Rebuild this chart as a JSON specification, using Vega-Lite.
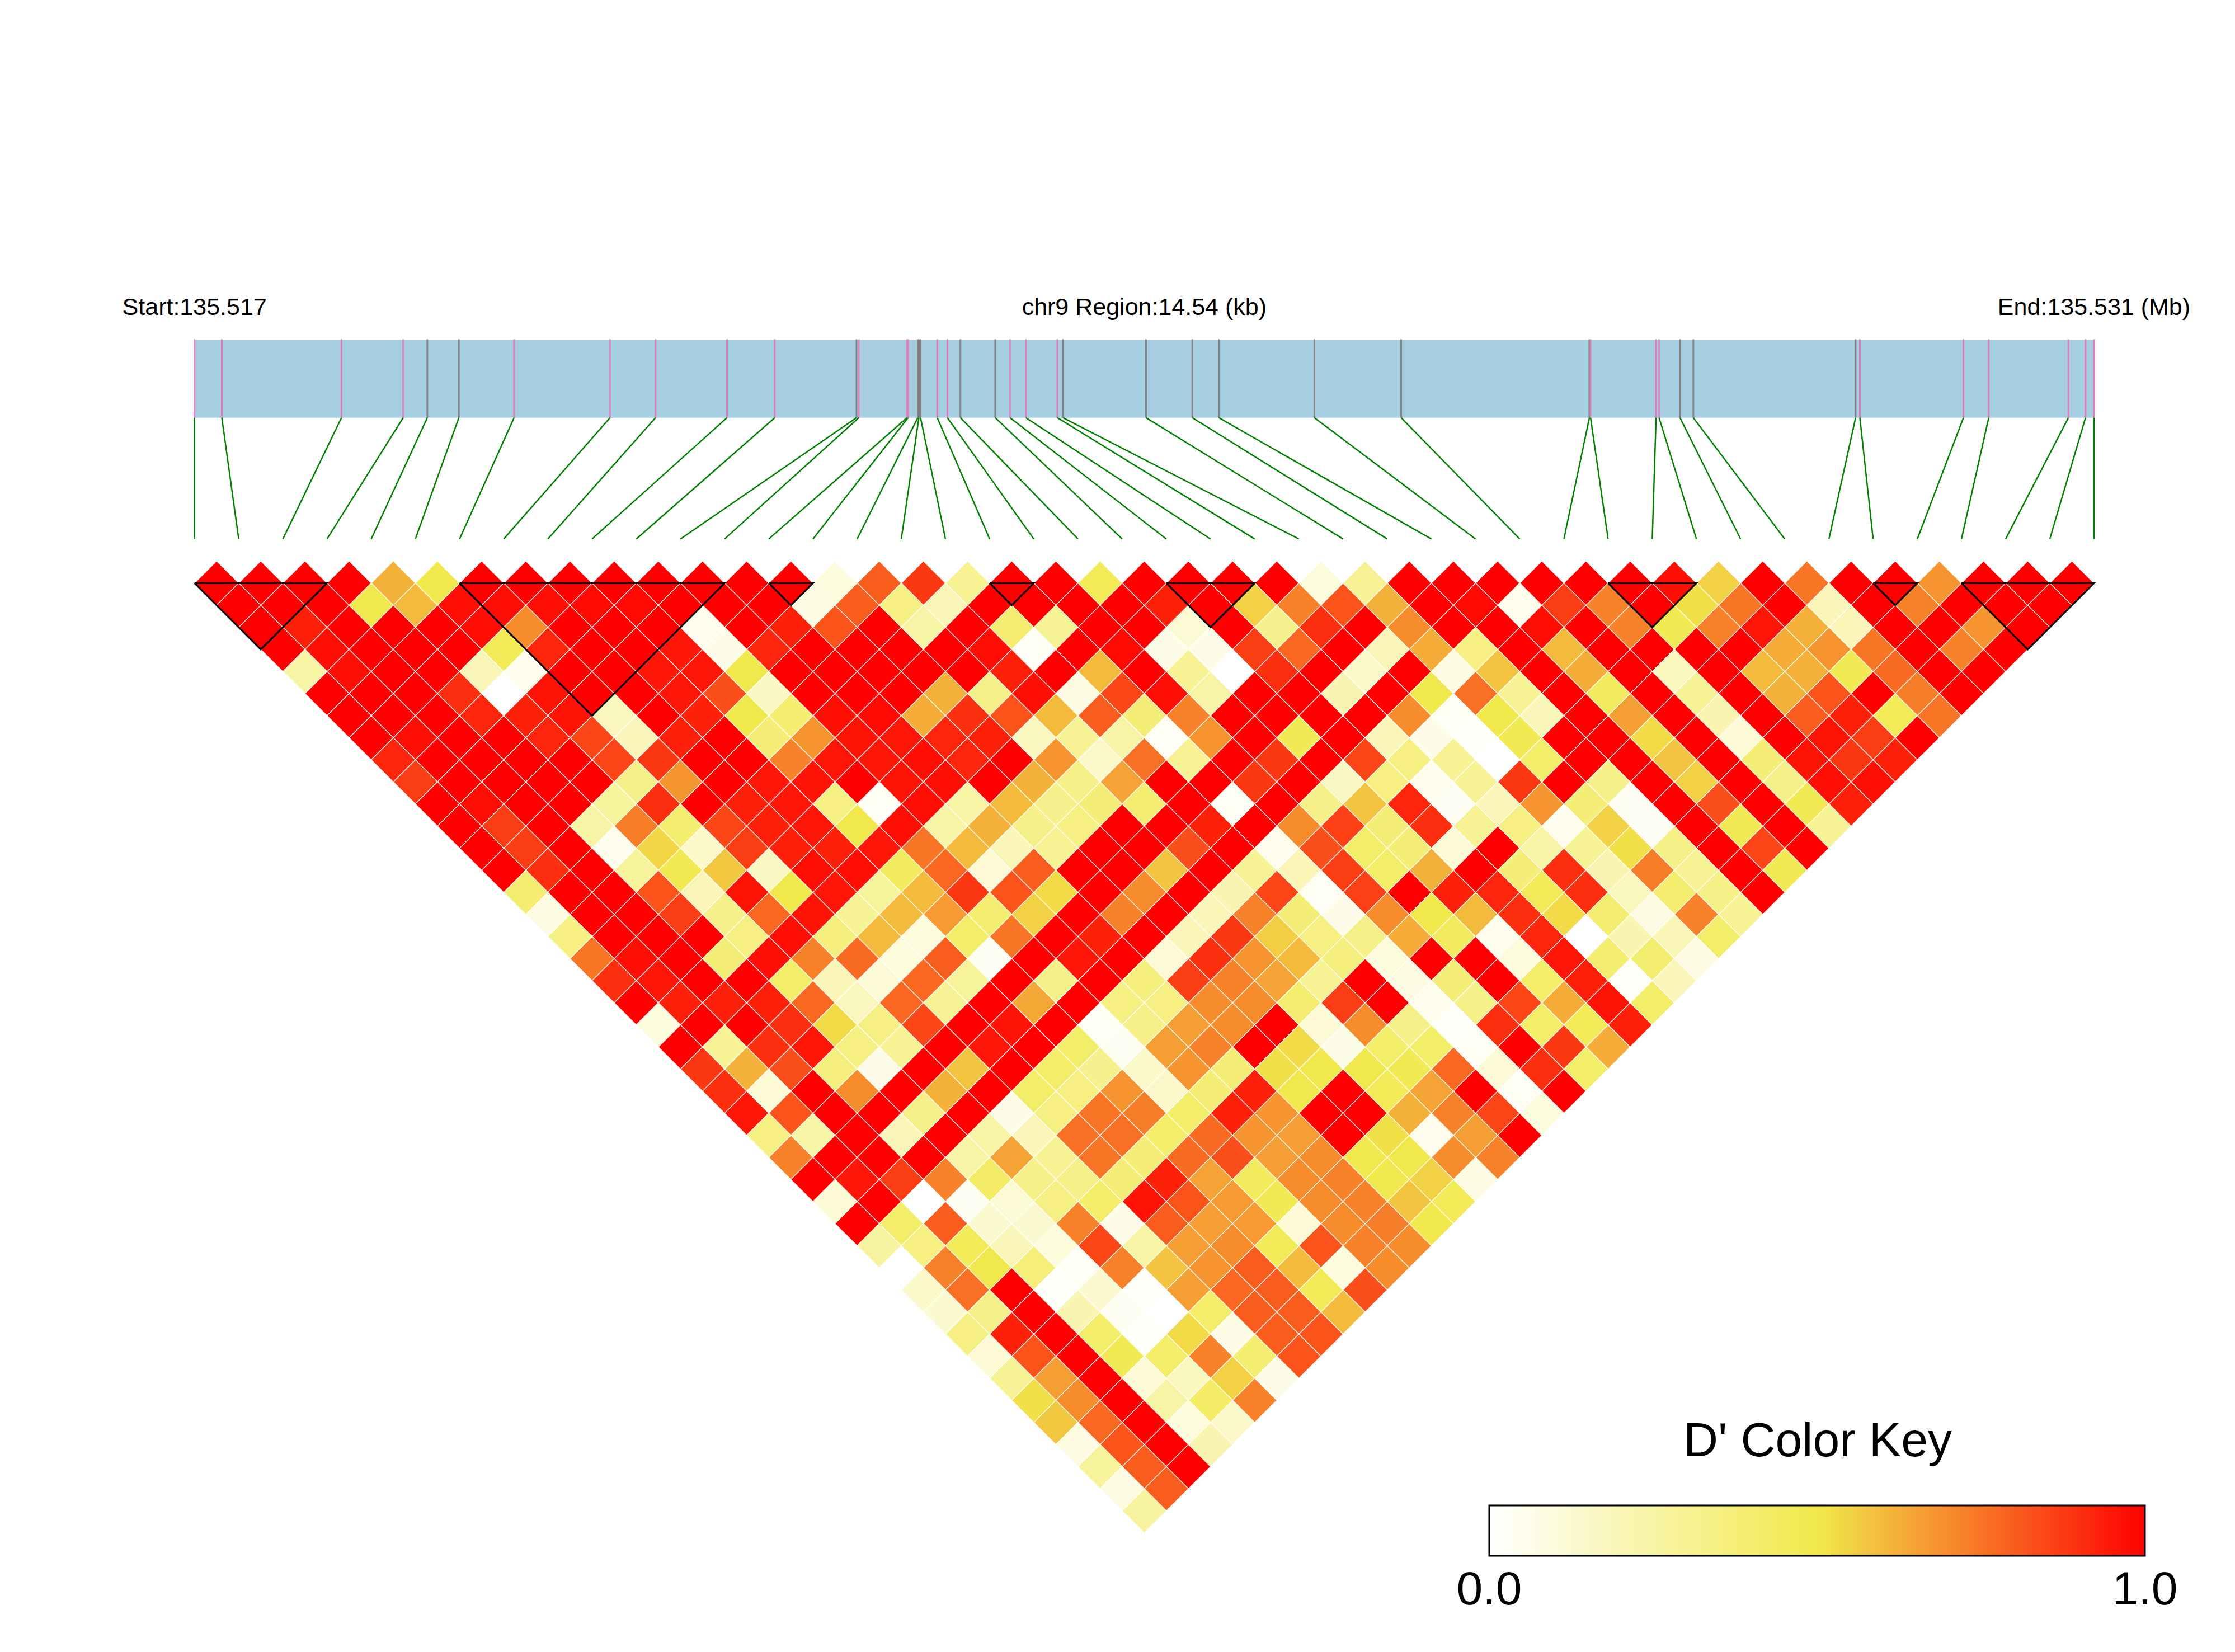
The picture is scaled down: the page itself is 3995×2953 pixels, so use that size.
{"$schema":"https://vega.github.io/schema/vega-lite/v6.json","width":3995,"height":2953,"padding":0,"autosize":{"type":"fit","contains":"padding"},"background":"white","config":{"view":{"stroke":null},"axis":{"disable":true}},
"datasets":{
"snps":[{"i":0,"p":0,"k":"a"},{"i":1,"p":0.618,"k":"a"},{"i":2,"p":3.327,"k":"a"},{"i":3,"p":4.724,"k":"a"},{"i":4,"p":5.27,"k":"b"},{"i":5,"p":5.984,"k":"b"},{"i":6,"p":7.234,"k":"a"},{"i":7,"p":9.407,"k":"a"},{"i":8,"p":10.437,"k":"a"},{"i":9,"p":12.054,"k":"a"},{"i":10,"p":13.136,"k":"a"},{"i":11,"p":14.986,"k":"b"},{"i":12,"p":15.039,"k":"a"},{"i":13,"p":16.129,"k":"a"},{"i":14,"p":16.154,"k":"a"},{"i":15,"p":16.373,"k":"b"},{"i":16,"p":16.398,"k":"b"},{"i":17,"p":16.436,"k":"b"},{"i":18,"p":16.814,"k":"a"},{"i":19,"p":17.044,"k":"a"},{"i":20,"p":17.339,"k":"b"},{"i":21,"p":18.127,"k":"b"},{"i":22,"p":18.462,"k":"a"},{"i":23,"p":18.82,"k":"a"},{"i":24,"p":19.533,"k":"a"},{"i":25,"p":19.659,"k":"b"},{"i":26,"p":21.539,"k":"b"},{"i":27,"p":22.589,"k":"b"},{"i":28,"p":23.188,"k":"b"},{"i":29,"p":25.351,"k":"b"},{"i":30,"p":27.315,"k":"b"},{"i":31,"p":31.577,"k":"b"},{"i":32,"p":31.603,"k":"a"},{"i":33,"p":33.086,"k":"a"},{"i":34,"p":33.154,"k":"a"},{"i":35,"p":33.628,"k":"b"},{"i":36,"p":33.93,"k":"b"},{"i":37,"p":37.603,"k":"b"},{"i":38,"p":37.7,"k":"a"},{"i":39,"p":40.045,"k":"a"},{"i":40,"p":40.617,"k":"a"},{"i":41,"p":42.42,"k":"a"},{"i":42,"p":42.808,"k":"a"},{"i":43,"p":43,"k":"a"}],
"blocks":[{"b":1,"o":0,"x":0,"d":1},{"b":1,"o":1,"x":3,"d":1},{"b":1,"o":2,"x":1.5,"d":4},{"b":1,"o":3,"x":0,"d":1},{"b":2,"o":0,"x":6,"d":1},{"b":2,"o":1,"x":12,"d":1},{"b":2,"o":2,"x":9,"d":7},{"b":2,"o":3,"x":6,"d":1},{"b":3,"o":0,"x":13,"d":1},{"b":3,"o":1,"x":14,"d":1},{"b":3,"o":2,"x":13.5,"d":2},{"b":3,"o":3,"x":13,"d":1},{"b":4,"o":0,"x":18,"d":1},{"b":4,"o":1,"x":19,"d":1},{"b":4,"o":2,"x":18.5,"d":2},{"b":4,"o":3,"x":18,"d":1},{"b":5,"o":0,"x":22,"d":1},{"b":5,"o":1,"x":24,"d":1},{"b":5,"o":2,"x":23,"d":3},{"b":5,"o":3,"x":22,"d":1},{"b":6,"o":0,"x":32,"d":1},{"b":6,"o":1,"x":34,"d":1},{"b":6,"o":2,"x":33,"d":3},{"b":6,"o":3,"x":32,"d":1},{"b":7,"o":0,"x":38,"d":1},{"b":7,"o":1,"x":39,"d":1},{"b":7,"o":2,"x":38.5,"d":2},{"b":7,"o":3,"x":38,"d":1},{"b":8,"o":0,"x":40,"d":1},{"b":8,"o":1,"x":43,"d":1},{"b":8,"o":2,"x":41.5,"d":4},{"b":8,"o":3,"x":40,"d":1}],
"cells":[
{"x":0.5,"d":1,"v":1},{"x":1.5,"d":1,"v":1},{"x":2.5,"d":1,"v":1},{"x":3.5,"d":1,"v":1},{"x":4.5,"d":1,"v":0.62},{"x":5.5,"d":1,"v":0.5},{"x":6.5,"d":1,"v":1},{"x":7.5,"d":1,"v":1},{"x":8.5,"d":1,"v":1},{"x":9.5,"d":1,"v":1},{"x":10.5,"d":1,"v":1},{"x":11.5,"d":1,"v":1},{"x":12.5,"d":1,"v":1},{"x":13.5,"d":1,"v":1},{"x":14.5,"d":1,"v":0.1},{"x":15.5,"d":1,"v":0.8},{"x":16.5,"d":1,"v":0.88},{"x":17.5,"d":1,"v":0.3},{"x":18.5,"d":1,"v":1},{"x":19.5,"d":1,"v":1},{"x":20.5,"d":1,"v":0.47},{"x":21.5,"d":1,"v":1},{"x":22.5,"d":1,"v":1},{"x":23.5,"d":1,"v":1},{"x":24.5,"d":1,"v":1},{"x":25.5,"d":1,"v":0.1},{"x":26.5,"d":1,"v":0.3},{"x":27.5,"d":1,"v":1},{"x":28.5,"d":1,"v":1},{"x":29.5,"d":1,"v":1},{"x":30.5,"d":1,"v":1},{"x":31.5,"d":1,"v":1},{"x":32.5,"d":1,"v":1},{"x":33.5,"d":1,"v":0.97},{"x":34.5,"d":1,"v":0.55},{"x":35.5,"d":1,"v":1},{"x":36.5,"d":1,"v":0.75},{"x":37.5,"d":1,"v":1},{"x":38.5,"d":1,"v":1},{"x":39.5,"d":1,"v":0.68},{"x":40.5,"d":1,"v":1},{"x":41.5,"d":1,"v":1},{"x":42.5,"d":1,"v":1},
{"x":1,"d":2,"v":1},{"x":2,"d":2,"v":1},{"x":3,"d":2,"v":1},{"x":4,"d":2,"v":0.5},{"x":5,"d":2,"v":0.6},{"x":6,"d":2,"v":0.97},{"x":7,"d":2,"v":0.97},{"x":8,"d":2,"v":0.97},{"x":9,"d":2,"v":0.98},{"x":10,"d":2,"v":0.98},{"x":11,"d":2,"v":1},{"x":12,"d":2,"v":1},{"x":13,"d":2,"v":1},{"x":14,"d":2,"v":0.08},{"x":15,"d":2,"v":0.8},{"x":16,"d":2,"v":0.35},{"x":17,"d":2,"v":0.2},{"x":18,"d":2,"v":1},{"x":19,"d":2,"v":1},{"x":20,"d":2,"v":1},{"x":21,"d":2,"v":1},{"x":22,"d":2,"v":0.93},{"x":23,"d":2,"v":1},{"x":24,"d":2,"v":0.55},{"x":25,"d":2,"v":0.72},{"x":26,"d":2,"v":0.82},{"x":27,"d":2,"v":0.62},{"x":28,"d":2,"v":1},{"x":29,"d":2,"v":0.98},{"x":30,"d":2,"v":0.05},{"x":31,"d":2,"v":0.87},{"x":32,"d":2,"v":0.72},{"x":33,"d":2,"v":1},{"x":34,"d":2,"v":0.52},{"x":35,"d":2,"v":0.75},{"x":36,"d":2,"v":1},{"x":37,"d":2,"v":0.2},{"x":38,"d":2,"v":1},{"x":39,"d":2,"v":0.72},{"x":40,"d":2,"v":1},{"x":41,"d":2,"v":1},{"x":42,"d":2,"v":1},
{"x":1.5,"d":3,"v":1},{"x":2.5,"d":3,"v":0.93},{"x":3.5,"d":3,"v":1},{"x":4.5,"d":3,"v":1},{"x":5.5,"d":3,"v":1},{"x":6.5,"d":3,"v":0.97},{"x":7.5,"d":3,"v":0.7},{"x":8.5,"d":3,"v":1},{"x":9.5,"d":3,"v":1},{"x":10.5,"d":3,"v":1},{"x":11.5,"d":3,"v":0.05},{"x":12.5,"d":3,"v":1},{"x":13.5,"d":3,"v":0.93},{"x":14.5,"d":3,"v":0.82},{"x":15.5,"d":3,"v":1},{"x":16.5,"d":3,"v":0.25},{"x":17.5,"d":3,"v":1},{"x":18.5,"d":3,"v":0.4},{"x":19.5,"d":3,"v":0.3},{"x":20.5,"d":3,"v":1},{"x":21.5,"d":3,"v":1},{"x":22.5,"d":3,"v":0.12},{"x":23.5,"d":3,"v":1},{"x":24.5,"d":3,"v":0.32},{"x":25.5,"d":3,"v":0.9},{"x":26.5,"d":3,"v":1},{"x":27.5,"d":3,"v":0.7},{"x":28.5,"d":3,"v":1},{"x":29.5,"d":3,"v":1},{"x":30.5,"d":3,"v":0.97},{"x":31.5,"d":3,"v":1},{"x":32.5,"d":3,"v":0.72},{"x":33.5,"d":3,"v":0.48},{"x":34.5,"d":3,"v":0.72},{"x":35.5,"d":3,"v":0.95},{"x":36.5,"d":3,"v":0.62},{"x":37.5,"d":3,"v":0.2},{"x":38.5,"d":3,"v":1},{"x":39.5,"d":3,"v":1},{"x":40.5,"d":3,"v":0.68},{"x":41.5,"d":3,"v":1},
{"x":2,"d":4,"v":1},{"x":3,"d":4,"v":0.97},{"x":4,"d":4,"v":1},{"x":5,"d":4,"v":1},{"x":6,"d":4,"v":1},{"x":7,"d":4,"v":0.47},{"x":8,"d":4,"v":0.92},{"x":9,"d":4,"v":1},{"x":10,"d":4,"v":1},{"x":11,"d":4,"v":0.95},{"x":12,"d":4,"v":0.06},{"x":13,"d":4,"v":0.92},{"x":14,"d":4,"v":1},{"x":15,"d":4,"v":1},{"x":16,"d":4,"v":1},{"x":17,"d":4,"v":1},{"x":18,"d":4,"v":0.97},{"x":19,"d":4,"v":0.03},{"x":20,"d":4,"v":1},{"x":21,"d":4,"v":0.98},{"x":22,"d":4,"v":0.07},{"x":23,"d":4,"v":0.06},{"x":24,"d":4,"v":0.87},{"x":25,"d":4,"v":0.78},{"x":26,"d":4,"v":1},{"x":27,"d":4,"v":0.2},{"x":28,"d":4,"v":0.63},{"x":29,"d":4,"v":0.35},{"x":30,"d":4,"v":1},{"x":31,"d":4,"v":0.6},{"x":32,"d":4,"v":1},{"x":33,"d":4,"v":1},{"x":34,"d":4,"v":1},{"x":35,"d":4,"v":1},{"x":36,"d":4,"v":0.63},{"x":37,"d":4,"v":0.68},{"x":38,"d":4,"v":0.75},{"x":39,"d":4,"v":1},{"x":40,"d":4,"v":0.72},{"x":41,"d":4,"v":1},
{"x":2.5,"d":5,"v":0.25},{"x":3.5,"d":5,"v":0.97},{"x":4.5,"d":5,"v":1},{"x":5.5,"d":5,"v":1},{"x":6.5,"d":5,"v":0.2},{"x":7.5,"d":5,"v":0.05},{"x":8.5,"d":5,"v":1},{"x":9.5,"d":5,"v":1},{"x":10.5,"d":5,"v":0.95},{"x":11.5,"d":5,"v":0.95},{"x":12.5,"d":5,"v":0.5},{"x":13.5,"d":5,"v":1},{"x":14.5,"d":5,"v":1},{"x":15.5,"d":5,"v":1},{"x":16.5,"d":5,"v":1},{"x":17.5,"d":5,"v":1},{"x":18.5,"d":5,"v":0.93},{"x":19.5,"d":5,"v":1},{"x":20.5,"d":5,"v":0.6},{"x":21.5,"d":5,"v":1},{"x":22.5,"d":5,"v":0.3},{"x":23.5,"d":5,"v":0},{"x":24.5,"d":5,"v":0.9},{"x":25.5,"d":5,"v":1},{"x":26.5,"d":5,"v":0.15},{"x":27.5,"d":5,"v":1},{"x":28.5,"d":5,"v":0.08},{"x":29.5,"d":5,"v":0.58},{"x":30.5,"d":5,"v":1},{"x":31.5,"d":5,"v":0.63},{"x":32.5,"d":5,"v":1},{"x":33.5,"d":5,"v":0.18},{"x":34.5,"d":5,"v":1},{"x":35.5,"d":5,"v":0.6},{"x":36.5,"d":5,"v":0.62},{"x":37.5,"d":5,"v":0.48},{"x":38.5,"d":5,"v":0.77},{"x":39.5,"d":5,"v":1},{"x":40.5,"d":5,"v":1},
{"x":3,"d":6,"v":1},{"x":4,"d":6,"v":1},{"x":5,"d":6,"v":1},{"x":6,"d":6,"v":0.9},{"x":7,"d":6,"v":0},{"x":8,"d":6,"v":0.96},{"x":9,"d":6,"v":1},{"x":10,"d":6,"v":1},{"x":11,"d":6,"v":0.95},{"x":12,"d":6,"v":0.83},{"x":13,"d":6,"v":0.17},{"x":14,"d":6,"v":1},{"x":15,"d":6,"v":1},{"x":16,"d":6,"v":1},{"x":17,"d":6,"v":0.62},{"x":18,"d":6,"v":0.33},{"x":19,"d":6,"v":0.97},{"x":20,"d":6,"v":0.08},{"x":21,"d":6,"v":0.85},{"x":22,"d":6,"v":0.97},{"x":23,"d":6,"v":0.25},{"x":24,"d":6,"v":1},{"x":25,"d":6,"v":1},{"x":26,"d":6,"v":0.22},{"x":27,"d":6,"v":1},{"x":28,"d":6,"v":0.5},{"x":29,"d":6,"v":0.76},{"x":30,"d":6,"v":0.3},{"x":31,"d":6,"v":1},{"x":32,"d":6,"v":0.45},{"x":33,"d":6,"v":1},{"x":34,"d":6,"v":0.3},{"x":35,"d":6,"v":1},{"x":36,"d":6,"v":0.62},{"x":37,"d":6,"v":0.82},{"x":38,"d":6,"v":1},{"x":39,"d":6,"v":0.73},{"x":40,"d":6,"v":1},
{"x":3.5,"d":7,"v":1},{"x":4.5,"d":7,"v":1},{"x":5.5,"d":7,"v":1},{"x":6.5,"d":7,"v":0.92},{"x":7.5,"d":7,"v":0.93},{"x":8.5,"d":7,"v":0.96},{"x":9.5,"d":7,"v":0.18},{"x":10.5,"d":7,"v":1},{"x":11.5,"d":7,"v":0.93},{"x":12.5,"d":7,"v":0.5},{"x":13.5,"d":7,"v":0.4},{"x":14.5,"d":7,"v":0.97},{"x":15.5,"d":7,"v":0.98},{"x":16.5,"d":7,"v":0.63},{"x":17.5,"d":7,"v":0.9},{"x":18.5,"d":7,"v":0.82},{"x":19.5,"d":7,"v":0.6},{"x":20.5,"d":7,"v":0.8},{"x":21.5,"d":7,"v":0.38},{"x":22.5,"d":7,"v":0.72},{"x":23.5,"d":7,"v":1},{"x":24.5,"d":7,"v":1},{"x":25.5,"d":7,"v":1},{"x":26.5,"d":7,"v":1},{"x":27.5,"d":7,"v":0.7},{"x":28.5,"d":7,"v":0.03},{"x":29.5,"d":7,"v":0.5},{"x":30.5,"d":7,"v":0.2},{"x":31.5,"d":7,"v":1},{"x":32.5,"d":7,"v":0.66},{"x":33.5,"d":7,"v":1},{"x":34.5,"d":7,"v":0.22},{"x":35.5,"d":7,"v":1},{"x":36.5,"d":7,"v":0.8},{"x":37.5,"d":7,"v":0.93},{"x":38.5,"d":7,"v":0.47},{"x":39.5,"d":7,"v":0.75},
{"x":4,"d":8,"v":1},{"x":5,"d":8,"v":0.97},{"x":6,"d":8,"v":1},{"x":7,"d":8,"v":1},{"x":8,"d":8,"v":0.92},{"x":9,"d":8,"v":0.85},{"x":10,"d":8,"v":0.2},{"x":11,"d":8,"v":0.93},{"x":12,"d":8,"v":1},{"x":13,"d":8,"v":0.38},{"x":14,"d":8,"v":0.68},{"x":15,"d":8,"v":0.96},{"x":16,"d":8,"v":0.95},{"x":17,"d":8,"v":0.92},{"x":18,"d":8,"v":0.93},{"x":19,"d":8,"v":0.18},{"x":20,"d":8,"v":0.3},{"x":21,"d":8,"v":0.25},{"x":22,"d":8,"v":0.03},{"x":23,"d":8,"v":0.68},{"x":24,"d":8,"v":1},{"x":25,"d":8,"v":0.48},{"x":26,"d":8,"v":1},{"x":27,"d":8,"v":0.2},{"x":28,"d":8,"v":0.07},{"x":29,"d":8,"v":0.01},{"x":30,"d":8,"v":0.48},{"x":31,"d":8,"v":1},{"x":32,"d":8,"v":1},{"x":33,"d":8,"v":0.53},{"x":34,"d":8,"v":1},{"x":35,"d":8,"v":0.12},{"x":36,"d":8,"v":1},{"x":37,"d":8,"v":0.96},{"x":38,"d":8,"v":0.87},{"x":39,"d":8,"v":1},
{"x":4.5,"d":9,"v":0.92},{"x":5.5,"d":9,"v":1},{"x":6.5,"d":9,"v":1},{"x":7.5,"d":9,"v":1},{"x":8.5,"d":9,"v":1},{"x":9.5,"d":9,"v":0.85},{"x":10.5,"d":9,"v":0.88},{"x":11.5,"d":9,"v":1},{"x":12.5,"d":9,"v":1},{"x":13.5,"d":9,"v":0.72},{"x":14.5,"d":9,"v":0.95},{"x":15.5,"d":9,"v":0.95},{"x":16.5,"d":9,"v":0.97},{"x":17.5,"d":9,"v":0.92},{"x":18.5,"d":9,"v":1},{"x":19.5,"d":9,"v":0.68},{"x":20.5,"d":9,"v":0.15},{"x":21.5,"d":9,"v":0.76},{"x":22.5,"d":9,"v":0.3},{"x":23.5,"d":9,"v":1},{"x":24.5,"d":9,"v":0.88},{"x":25.5,"d":9,"v":1},{"x":26.5,"d":9,"v":0.85},{"x":27.5,"d":9,"v":0.35},{"x":28.5,"d":9,"v":0.3},{"x":29.5,"d":9,"v":0},{"x":30.5,"d":9,"v":0.42},{"x":31.5,"d":9,"v":1},{"x":32.5,"d":9,"v":1},{"x":33.5,"d":9,"v":0.58},{"x":34.5,"d":9,"v":1},{"x":35.5,"d":9,"v":0.38},{"x":36.5,"d":9,"v":0.96},{"x":37.5,"d":9,"v":0.88},{"x":38.5,"d":9,"v":0.93},
{"x":5,"d":10,"v":0.87},{"x":6,"d":10,"v":1},{"x":7,"d":10,"v":1},{"x":8,"d":10,"v":1},{"x":9,"d":10,"v":1},{"x":10,"d":10,"v":0.33},{"x":11,"d":10,"v":0.68},{"x":12,"d":10,"v":1},{"x":13,"d":10,"v":0.95},{"x":14,"d":10,"v":0.96},{"x":15,"d":10,"v":1},{"x":16,"d":10,"v":0.96},{"x":17,"d":10,"v":0.97},{"x":18,"d":10,"v":1},{"x":19,"d":10,"v":0.62},{"x":20,"d":10,"v":0.33},{"x":21,"d":10,"v":0.65},{"x":22,"d":10,"v":1},{"x":23,"d":10,"v":1},{"x":24,"d":10,"v":0.88},{"x":25,"d":10,"v":1},{"x":26,"d":10,"v":0.17},{"x":27,"d":10,"v":0.35},{"x":28,"d":10,"v":0.05},{"x":29,"d":10,"v":0.3},{"x":30,"d":10,"v":0.88},{"x":31,"d":10,"v":1},{"x":32,"d":10,"v":0.33},{"x":33,"d":10,"v":1},{"x":34,"d":10,"v":0.55},{"x":35,"d":10,"v":1},{"x":36,"d":10,"v":0.33},{"x":37,"d":10,"v":0.97},{"x":38,"d":10,"v":0.97},
{"x":5.5,"d":11,"v":1},{"x":6.5,"d":11,"v":0.97},{"x":7.5,"d":11,"v":1},{"x":8.5,"d":11,"v":1},{"x":9.5,"d":11,"v":0.28},{"x":10.5,"d":11,"v":0.9},{"x":11.5,"d":11,"v":1},{"x":12.5,"d":11,"v":0.93},{"x":13.5,"d":11,"v":0.95},{"x":14.5,"d":11,"v":0.35},{"x":15.5,"d":11,"v":0.03},{"x":16.5,"d":11,"v":0.97},{"x":17.5,"d":11,"v":0.25},{"x":18.5,"d":11,"v":0.6},{"x":19.5,"d":11,"v":0.32},{"x":20.5,"d":11,"v":0.38},{"x":21.5,"d":11,"v":0.4},{"x":22.5,"d":11,"v":1},{"x":23.5,"d":11,"v":0.03},{"x":24.5,"d":11,"v":1},{"x":25.5,"d":11,"v":0.33},{"x":26.5,"d":11,"v":0.58},{"x":27.5,"d":11,"v":0.92},{"x":28.5,"d":11,"v":0.04},{"x":29.5,"d":11,"v":0.2},{"x":30.5,"d":11,"v":0.68},{"x":31.5,"d":11,"v":0.38},{"x":32.5,"d":11,"v":0.04},{"x":33.5,"d":11,"v":1},{"x":34.5,"d":11,"v":0.83},{"x":35.5,"d":11,"v":1},{"x":36.5,"d":11,"v":0.48},{"x":37.5,"d":11,"v":0.93},
{"x":6,"d":12,"v":1},{"x":7,"d":12,"v":0.87},{"x":8,"d":12,"v":1},{"x":9,"d":12,"v":0.25},{"x":10,"d":12,"v":0.73},{"x":11,"d":12,"v":0.4},{"x":12,"d":12,"v":0.85},{"x":13,"d":12,"v":0.93},{"x":14,"d":12,"v":0.95},{"x":15,"d":12,"v":0.5},{"x":16,"d":12,"v":0.97},{"x":17,"d":12,"v":0.25},{"x":18,"d":12,"v":0.62},{"x":19,"d":12,"v":0.33},{"x":20,"d":12,"v":0.35},{"x":21,"d":12,"v":1},{"x":22,"d":12,"v":1},{"x":23,"d":12,"v":0.93},{"x":24,"d":12,"v":1},{"x":25,"d":12,"v":0.7},{"x":26,"d":12,"v":0.86},{"x":27,"d":12,"v":0.38},{"x":28,"d":12,"v":0.9},{"x":29,"d":12,"v":0.3},{"x":30,"d":12,"v":0.35},{"x":31,"d":12,"v":0.05},{"x":32,"d":12,"v":0.55},{"x":33,"d":12,"v":0.04},{"x":34,"d":12,"v":1},{"x":35,"d":12,"v":0.48},{"x":36,"d":12,"v":1},{"x":37,"d":12,"v":0.3},
{"x":6.5,"d":13,"v":1},{"x":7.5,"d":13,"v":0.87},{"x":8.5,"d":13,"v":1},{"x":9.5,"d":13,"v":0.05},{"x":10.5,"d":13,"v":0.54},{"x":11.5,"d":13,"v":0.15},{"x":12.5,"d":13,"v":0.87},{"x":13.5,"d":13,"v":0.93},{"x":14.5,"d":13,"v":0.93},{"x":15.5,"d":13,"v":0.95},{"x":16.5,"d":13,"v":0.75},{"x":17.5,"d":13,"v":0.6},{"x":18.5,"d":13,"v":0.2},{"x":19.5,"d":13,"v":0.3},{"x":20.5,"d":13,"v":1},{"x":21.5,"d":13,"v":1},{"x":22.5,"d":13,"v":0.83},{"x":23.5,"d":13,"v":1},{"x":24.5,"d":13,"v":0.05},{"x":25.5,"d":13,"v":0.83},{"x":26.5,"d":13,"v":0.42},{"x":27.5,"d":13,"v":0.38},{"x":28.5,"d":13,"v":0.12},{"x":29.5,"d":13,"v":1},{"x":30.5,"d":13,"v":0.25},{"x":31.5,"d":13,"v":0.3},{"x":32.5,"d":13,"v":0.52},{"x":33.5,"d":13,"v":0.33},{"x":34.5,"d":13,"v":1},{"x":35.5,"d":13,"v":0.85},{"x":36.5,"d":13,"v":1},
{"x":7,"d":14,"v":1},{"x":8,"d":14,"v":0.9},{"x":9,"d":14,"v":1},{"x":10,"d":14,"v":0.28},{"x":11,"d":14,"v":0.48},{"x":12,"d":14,"v":0.57},{"x":13,"d":14,"v":0.17},{"x":14,"d":14,"v":0.97},{"x":15,"d":14,"v":0.97},{"x":16,"d":14,"v":0.45},{"x":17,"d":14,"v":0.78},{"x":18,"d":14,"v":0.12},{"x":19,"d":14,"v":0.8},{"x":20,"d":14,"v":1},{"x":21,"d":14,"v":1},{"x":22,"d":14,"v":0.58},{"x":23,"d":14,"v":1},{"x":24,"d":14,"v":0.3},{"x":25,"d":14,"v":0.2},{"x":26,"d":14,"v":0.87},{"x":27,"d":14,"v":0.42},{"x":28,"d":14,"v":0.62},{"x":29,"d":14,"v":1},{"x":30,"d":14,"v":0.38},{"x":31,"d":14,"v":0.9},{"x":32,"d":14,"v":0.22},{"x":33,"d":14,"v":0.73},{"x":34,"d":14,"v":0.3},{"x":35,"d":14,"v":1},{"x":36,"d":14,"v":0.48},
{"x":7.5,"d":15,"v":0.4},{"x":8.5,"d":15,"v":1},{"x":9.5,"d":15,"v":1},{"x":10.5,"d":15,"v":0.82},{"x":11.5,"d":15,"v":0.2},{"x":12.5,"d":15,"v":0.96},{"x":13.5,"d":15,"v":0.5},{"x":14.5,"d":15,"v":0.95},{"x":15.5,"d":15,"v":0.28},{"x":16.5,"d":15,"v":0.6},{"x":17.5,"d":15,"v":0.88},{"x":18.5,"d":15,"v":0.82},{"x":19.5,"d":15,"v":0.53},{"x":20.5,"d":15,"v":1},{"x":21.5,"d":15,"v":0.7},{"x":22.5,"d":15,"v":1},{"x":23.5,"d":15,"v":0.22},{"x":24.5,"d":15,"v":0.85},{"x":25.5,"d":15,"v":0.03},{"x":26.5,"d":15,"v":0.86},{"x":27.5,"d":15,"v":1},{"x":28.5,"d":15,"v":0.93},{"x":29.5,"d":15,"v":0.92},{"x":30.5,"d":15,"v":0.47},{"x":31.5,"d":15,"v":0.9},{"x":32.5,"d":15,"v":0.18},{"x":33.5,"d":15,"v":0.4},{"x":34.5,"d":15,"v":0.33},{"x":35.5,"d":15,"v":1},
{"x":8,"d":16,"v":0.08},{"x":9,"d":16,"v":1},{"x":10,"d":16,"v":1},{"x":11,"d":16,"v":0.87},{"x":12,"d":16,"v":0.33},{"x":13,"d":16,"v":0.78},{"x":14,"d":16,"v":0.96},{"x":15,"d":16,"v":0.3},{"x":16,"d":16,"v":0.6},{"x":17,"d":16,"v":0.67},{"x":18,"d":16,"v":0.4},{"x":19,"d":16,"v":0.55},{"x":20,"d":16,"v":1},{"x":21,"d":16,"v":0.72},{"x":22,"d":16,"v":1},{"x":23,"d":16,"v":0.2},{"x":24,"d":16,"v":0.72},{"x":25,"d":16,"v":0.38},{"x":26,"d":16,"v":0.06},{"x":27,"d":16,"v":0.7},{"x":28,"d":16,"v":0.5},{"x":29,"d":16,"v":0.6},{"x":30,"d":16,"v":0.9},{"x":31,"d":16,"v":0.53},{"x":32,"d":16,"v":0.4},{"x":33,"d":16,"v":0.08},{"x":34,"d":16,"v":0.72},{"x":35,"d":16,"v":0.3},
{"x":8.5,"d":17,"v":0.35},{"x":9.5,"d":17,"v":1},{"x":10.5,"d":17,"v":1},{"x":11.5,"d":17,"v":1},{"x":12.5,"d":17,"v":0.35},{"x":13.5,"d":17,"v":0.97},{"x":14.5,"d":17,"v":0.36},{"x":15.5,"d":17,"v":0.6},{"x":16.5,"d":17,"v":0.1},{"x":17.5,"d":17,"v":0.42},{"x":18.5,"d":17,"v":0.75},{"x":19.5,"d":17,"v":1},{"x":20.5,"d":17,"v":0.93},{"x":21.5,"d":17,"v":1},{"x":22.5,"d":17,"v":0.2},{"x":23.5,"d":17,"v":0.88},{"x":24.5,"d":17,"v":0.56},{"x":25.5,"d":17,"v":0.35},{"x":26.5,"d":17,"v":0.33},{"x":27.5,"d":17,"v":0.63},{"x":28.5,"d":17,"v":0.45},{"x":29.5,"d":17,"v":0.05},{"x":30.5,"d":17,"v":0.92},{"x":31.5,"d":17,"v":0},{"x":32.5,"d":17,"v":0.22},{"x":33.5,"d":17,"v":0.2},{"x":34.5,"d":17,"v":0.42},
{"x":9,"d":18,"v":0.75},{"x":10,"d":18,"v":0.97},{"x":11,"d":18,"v":1},{"x":12,"d":18,"v":0.38},{"x":13,"d":18,"v":0.97},{"x":14,"d":18,"v":0.72},{"x":15,"d":18,"v":0.77},{"x":16,"d":18,"v":0.1},{"x":17,"d":18,"v":0.8},{"x":18,"d":18,"v":0.04},{"x":19,"d":18,"v":1},{"x":20,"d":18,"v":0.95},{"x":21,"d":18,"v":1},{"x":22,"d":18,"v":0.12},{"x":23,"d":18,"v":0.9},{"x":24,"d":18,"v":0.68},{"x":25,"d":18,"v":0.6},{"x":26,"d":18,"v":0.36},{"x":27,"d":18,"v":0.1},{"x":28,"d":18,"v":1},{"x":29,"d":18,"v":1},{"x":30,"d":18,"v":0.1},{"x":31,"d":18,"v":0.95},{"x":32,"d":18,"v":0.4},{"x":33,"d":18,"v":0.4},{"x":34,"d":18,"v":0.08},
{"x":9.5,"d":19,"v":0.9},{"x":10.5,"d":19,"v":0.95},{"x":11.5,"d":19,"v":1},{"x":12.5,"d":19,"v":1},{"x":13.5,"d":19,"v":0.42},{"x":14.5,"d":19,"v":0.2},{"x":15.5,"d":19,"v":0.12},{"x":16.5,"d":19,"v":0.78},{"x":17.5,"d":19,"v":0.28},{"x":18.5,"d":19,"v":1},{"x":19.5,"d":19,"v":0.33},{"x":20.5,"d":19,"v":1},{"x":21.5,"d":19,"v":0.36},{"x":22.5,"d":19,"v":0.87},{"x":23.5,"d":19,"v":0.72},{"x":24.5,"d":19,"v":0.65},{"x":25.5,"d":19,"v":0.3},{"x":26.5,"d":19,"v":1},{"x":27.5,"d":19,"v":0.08},{"x":28.5,"d":19,"v":0.38},{"x":29.5,"d":19,"v":1},{"x":30.5,"d":19,"v":0.42},{"x":31.5,"d":19,"v":0.93},{"x":32.5,"d":19,"v":0.02},{"x":33.5,"d":19,"v":0.2},
{"x":10,"d":20,"v":1},{"x":11,"d":20,"v":0.93},{"x":12,"d":20,"v":0.93},{"x":13,"d":20,"v":0.93},{"x":14,"d":20,"v":0.78},{"x":15,"d":20,"v":0.18},{"x":16,"d":20,"v":0.78},{"x":17,"d":20,"v":0.3},{"x":18,"d":20,"v":1},{"x":19,"d":20,"v":0.64},{"x":20,"d":20,"v":1},{"x":21,"d":20,"v":0.35},{"x":22,"d":20,"v":0.35},{"x":23,"d":20,"v":0.7},{"x":24,"d":20,"v":0.7},{"x":25,"d":20,"v":0.4},{"x":26,"d":20,"v":0.87},{"x":27,"d":20,"v":1},{"x":28,"d":20,"v":0.05},{"x":29,"d":20,"v":0.33},{"x":30,"d":20,"v":0.85},{"x":31,"d":20,"v":0.63},{"x":32,"d":20,"v":0.96},{"x":33,"d":20,"v":0.42},
{"x":10.5,"d":21,"v":0.1},{"x":11.5,"d":21,"v":1},{"x":12.5,"d":21,"v":1},{"x":13.5,"d":21,"v":0.9},{"x":14.5,"d":21,"v":0.53},{"x":15.5,"d":21,"v":0.35},{"x":16.5,"d":21,"v":0.85},{"x":17.5,"d":21,"v":1},{"x":18.5,"d":21,"v":0.96},{"x":19.5,"d":21,"v":1},{"x":20.5,"d":21,"v":0.03},{"x":21.5,"d":21,"v":0.33},{"x":22.5,"d":21,"v":0.66},{"x":23.5,"d":21,"v":0.7},{"x":24.5,"d":21,"v":1},{"x":25.5,"d":21,"v":0.12},{"x":26.5,"d":21,"v":0.7},{"x":27.5,"d":21,"v":0.33},{"x":28.5,"d":21,"v":0.02},{"x":29.5,"d":21,"v":0.9},{"x":30.5,"d":21,"v":0.42},{"x":31.5,"d":21,"v":0.47},{"x":32.5,"d":21,"v":0.93},
{"x":11,"d":22,"v":1},{"x":12,"d":22,"v":0.3},{"x":13,"d":22,"v":0.9},{"x":14,"d":22,"v":0.95},{"x":15,"d":22,"v":0.35},{"x":16,"d":22,"v":0.3},{"x":17,"d":22,"v":1},{"x":18,"d":22,"v":0.95},{"x":19,"d":22,"v":1},{"x":20,"d":22,"v":0.42},{"x":21,"d":22,"v":0.04},{"x":22,"d":22,"v":0.66},{"x":23,"d":22,"v":0.72},{"x":24,"d":22,"v":1},{"x":25,"d":22,"v":0.53},{"x":26,"d":22,"v":0.07},{"x":27,"d":22,"v":0.42},{"x":28,"d":22,"v":0.42},{"x":29,"d":22,"v":0.03},{"x":30,"d":22,"v":1},{"x":31,"d":22,"v":0.88},{"x":32,"d":22,"v":0.63},
{"x":11.5,"d":23,"v":0.88},{"x":12.5,"d":23,"v":0.62},{"x":13.5,"d":23,"v":0.83},{"x":14.5,"d":23,"v":0.36},{"x":15.5,"d":23,"v":0.06},{"x":16.5,"d":23,"v":1},{"x":17.5,"d":23,"v":0.58},{"x":18.5,"d":23,"v":1},{"x":19.5,"d":23,"v":0.42},{"x":20.5,"d":23,"v":0.32},{"x":21.5,"d":23,"v":0.15},{"x":22.5,"d":23,"v":0.68},{"x":23.5,"d":23,"v":0.38},{"x":24.5,"d":23,"v":0.52},{"x":25.5,"d":23,"v":0.5},{"x":26.5,"d":23,"v":0.5},{"x":27.5,"d":23,"v":0.48},{"x":28.5,"d":23,"v":0.78},{"x":29.5,"d":23,"v":0.12},{"x":30.5,"d":23,"v":0.9},{"x":31.5,"d":23,"v":0.42},
{"x":12,"d":24,"v":0.9},{"x":13,"d":24,"v":0.12},{"x":14,"d":24,"v":1},{"x":15,"d":24,"v":0.7},{"x":16,"d":24,"v":1},{"x":17,"d":24,"v":0.62},{"x":18,"d":24,"v":1},{"x":19,"d":24,"v":0.42},{"x":20,"d":24,"v":0.35},{"x":21,"d":24,"v":0.68},{"x":22,"d":24,"v":0.15},{"x":23,"d":24,"v":0.38},{"x":24,"d":24,"v":0.93},{"x":25,"d":24,"v":0.5},{"x":26,"d":24,"v":1},{"x":27,"d":24,"v":0.47},{"x":28,"d":24,"v":0.65},{"x":29,"d":24,"v":1},{"x":30,"d":24,"v":0.03},{"x":31,"d":24,"v":1},
{"x":12.5,"d":25,"v":0.95},{"x":13.5,"d":25,"v":0.82},{"x":14.5,"d":25,"v":1},{"x":15.5,"d":25,"v":1},{"x":16.5,"d":25,"v":0.33},{"x":17.5,"d":25,"v":1},{"x":18.5,"d":25,"v":0.06},{"x":19.5,"d":25,"v":0.35},{"x":20.5,"d":25,"v":0.75},{"x":21.5,"d":25,"v":0.73},{"x":22.5,"d":25,"v":0.42},{"x":23.5,"d":25,"v":0.93},{"x":24.5,"d":25,"v":0.68},{"x":25.5,"d":25,"v":1},{"x":26.5,"d":25,"v":1},{"x":27.5,"d":25,"v":0.62},{"x":28.5,"d":25,"v":0.72},{"x":29.5,"d":25,"v":0.85},{"x":30.5,"d":25,"v":0.1},
{"x":13,"d":26,"v":0.35},{"x":14,"d":26,"v":0.25},{"x":15,"d":26,"v":1},{"x":16,"d":26,"v":0.2},{"x":17,"d":26,"v":1},{"x":18,"d":26,"v":0.25},{"x":19,"d":26,"v":0.2},{"x":20,"d":26,"v":0.76},{"x":21,"d":26,"v":0.76},{"x":22,"d":26,"v":0.42},{"x":23,"d":26,"v":0.77},{"x":24,"d":26,"v":0.68},{"x":25,"d":26,"v":0.66},{"x":26,"d":26,"v":1},{"x":27,"d":26,"v":0.52},{"x":28,"d":26,"v":0.05},{"x":29,"d":26,"v":0.66},{"x":30,"d":26,"v":1},
{"x":13.5,"d":27,"v":0.72},{"x":14.5,"d":27,"v":1},{"x":15.5,"d":27,"v":1},{"x":16.5,"d":27,"v":1},{"x":17.5,"d":27,"v":0.25},{"x":18.5,"d":27,"v":0.65},{"x":19.5,"d":27,"v":0.3},{"x":20.5,"d":27,"v":0.75},{"x":21.5,"d":27,"v":0.38},{"x":22.5,"d":27,"v":0.77},{"x":23.5,"d":27,"v":0.83},{"x":24.5,"d":27,"v":0.66},{"x":25.5,"d":27,"v":0.7},{"x":26.5,"d":27,"v":0.5},{"x":27.5,"d":27,"v":0.5},{"x":28.5,"d":27,"v":0.7},{"x":29.5,"d":27,"v":0.72},
{"x":14,"d":28,"v":1},{"x":15,"d":28,"v":0.95},{"x":16,"d":28,"v":0.87},{"x":17,"d":28,"v":0.72},{"x":18,"d":28,"v":0.43},{"x":19,"d":28,"v":0.33},{"x":20,"d":28,"v":0.33},{"x":21,"d":28,"v":0.38},{"x":22,"d":28,"v":0.93},{"x":23,"d":28,"v":0.65},{"x":24,"d":28,"v":0.45},{"x":25,"d":28,"v":0.7},{"x":26,"d":28,"v":0.72},{"x":27,"d":28,"v":0.5},{"x":28,"d":28,"v":0.55},{"x":29,"d":28,"v":0.08},
{"x":14.5,"d":29,"v":0.12},{"x":15.5,"d":29,"v":1},{"x":16.5,"d":29,"v":0},{"x":17.5,"d":29,"v":0.04},{"x":18.5,"d":29,"v":0.12},{"x":19.5,"d":29,"v":0.35},{"x":20.5,"d":29,"v":0.42},{"x":21.5,"d":29,"v":0.96},{"x":22.5,"d":29,"v":0.82},{"x":23.5,"d":29,"v":0.67},{"x":24.5,"d":29,"v":0.48},{"x":25.5,"d":29,"v":0.7},{"x":26.5,"d":29,"v":0.72},{"x":27.5,"d":29,"v":0.58},{"x":28.5,"d":29,"v":0.47},
{"x":15,"d":30,"v":1},{"x":16,"d":30,"v":0.42},{"x":17,"d":30,"v":0.8},{"x":18,"d":30,"v":0.13},{"x":19,"d":30,"v":0.13},{"x":20,"d":30,"v":0.72},{"x":21,"d":30,"v":0.06},{"x":22,"d":30,"v":0.8},{"x":23,"d":30,"v":0.66},{"x":24,"d":30,"v":0.67},{"x":25,"d":30,"v":0.12},{"x":26,"d":30,"v":0.7},{"x":27,"d":30,"v":0.73},{"x":28,"d":30,"v":0.5},
{"x":15.5,"d":31,"v":0.27},{"x":16.5,"d":31,"v":0.35},{"x":17.5,"d":31,"v":0.47},{"x":18.5,"d":31,"v":0.2},{"x":19.5,"d":31,"v":0.1},{"x":20.5,"d":31,"v":0.85},{"x":21.5,"d":31,"v":0.25},{"x":22.5,"d":31,"v":0.66},{"x":23.5,"d":31,"v":0.7},{"x":24.5,"d":31,"v":0.47},{"x":25.5,"d":31,"v":0.82},{"x":26.5,"d":31,"v":0.72},{"x":27.5,"d":31,"v":0.7},
{"x":16,"d":32,"v":0},{"x":17,"d":32,"v":0.72},{"x":18,"d":32,"v":0.5},{"x":19,"d":32,"v":0.37},{"x":20,"d":32,"v":0.03},{"x":21,"d":32,"v":0.72},{"x":22,"d":32,"v":0.58},{"x":23,"d":32,"v":0.68},{"x":24,"d":32,"v":0.8},{"x":25,"d":32,"v":0.6},{"x":26,"d":32,"v":0.1},{"x":27,"d":32,"v":0.7},
{"x":16.5,"d":33,"v":0.15},{"x":17.5,"d":33,"v":0.76},{"x":18.5,"d":33,"v":1},{"x":19.5,"d":33,"v":0.02},{"x":20.5,"d":33,"v":0.14},{"x":21.5,"d":33,"v":0.02},{"x":22.5,"d":33,"v":0.66},{"x":23.5,"d":33,"v":0.78},{"x":24.5,"d":33,"v":0.8},{"x":25.5,"d":33,"v":0.47},{"x":26.5,"d":33,"v":0.83},
{"x":17,"d":34,"v":0.13},{"x":18,"d":34,"v":0.33},{"x":19,"d":34,"v":1},{"x":20,"d":34,"v":0.22},{"x":21,"d":34,"v":0.04},{"x":22,"d":34,"v":0},{"x":23,"d":34,"v":0.42},{"x":24,"d":34,"v":0.8},{"x":25,"d":34,"v":0.8},{"x":26,"d":34,"v":0.6},
{"x":17.5,"d":35,"v":0.35},{"x":18.5,"d":35,"v":0.93},{"x":19.5,"d":35,"v":1},{"x":20.5,"d":35,"v":0.42},{"x":21.5,"d":35,"v":0.02},{"x":22.5,"d":35,"v":0.53},{"x":23.5,"d":35,"v":0.07},{"x":24.5,"d":35,"v":0.8},{"x":25.5,"d":35,"v":0.82},
{"x":18,"d":36,"v":0.12},{"x":19,"d":36,"v":0.82},{"x":20,"d":36,"v":1},{"x":21,"d":36,"v":0.48},{"x":22,"d":36,"v":0.42},{"x":23,"d":36,"v":0.72},{"x":24,"d":36,"v":0.4},{"x":25,"d":36,"v":0.82},
{"x":18.5,"d":37,"v":0.3},{"x":19.5,"d":37,"v":0.66},{"x":20.5,"d":37,"v":1},{"x":21.5,"d":37,"v":0.12},{"x":22.5,"d":37,"v":0.18},{"x":23.5,"d":37,"v":0.55},{"x":24.5,"d":37,"v":0.07},
{"x":19,"d":38,"v":0.52},{"x":20,"d":38,"v":0.7},{"x":21,"d":38,"v":1},{"x":22,"d":38,"v":0.25},{"x":23,"d":38,"v":0.43},{"x":24,"d":38,"v":0.72},
{"x":19.5,"d":39,"v":0.57},{"x":20.5,"d":39,"v":0.78},{"x":21.5,"d":39,"v":1},{"x":22.5,"d":39,"v":0.1},{"x":23.5,"d":39,"v":0.15},
{"x":20,"d":40,"v":0.08},{"x":21,"d":40,"v":0.82},{"x":22,"d":40,"v":1},{"x":23,"d":40,"v":0.22},
{"x":20.5,"d":41,"v":0.28},{"x":21.5,"d":41,"v":0.8},{"x":22.5,"d":41,"v":1},
{"x":21,"d":42,"v":0.08},{"x":22,"d":42,"v":0.8},
{"x":21.5,"d":43,"v":0.27}
]},
"layer":[
{"data":{"values":[{"x":0,"x2":43,"y":-10.01,"y2":-6.49}]},"mark":{"type":"rect","color":"#A6CEE3"},"encoding":{"x":{"field":"x","type":"quantitative","scale":{"domain":[-4.4035,46.192],"nice":false,"zero":false}},"x2":{"field":"x2"},"y":{"field":"y","type":"quantitative","scale":{"domain":[49.394,-25.403],"nice":false,"zero":false}},"y2":{"field":"y2"}}},
{"data":{"name":"snps"},"transform":[{"filter":"datum.k=='b'"}],"mark":{"type":"rule","color":"#808080","strokeWidth":3},"encoding":{"x":{"field":"p","type":"quantitative"},"y":{"datum":-10.04},"y2":{"datum":-6.49}}},
{"data":{"name":"snps"},"transform":[{"filter":"datum.k=='a'"}],"mark":{"type":"rule","color":"#E07FBD","strokeWidth":3},"encoding":{"x":{"field":"p","type":"quantitative"},"y":{"datum":-10.04},"y2":{"datum":-6.49}}},
{"data":{"name":"snps"},"mark":{"type":"rule","color":"#008000","strokeWidth":2.5},"encoding":{"x":{"field":"p","type":"quantitative"},"x2":{"field":"i"},"y":{"datum":-6.49},"y2":{"datum":-1}}},
{"data":{"name":"cells"},"mark":{"type":"point","shape":"diamond","filled":true,"size":6235,"stroke":"white","strokeWidth":1.2,"opacity":1},"encoding":{"x":{"field":"x","type":"quantitative"},"y":{"field":"d","type":"quantitative"},"color":{"field":"v","type":"quantitative","scale":{"domain":[0,0.5,1],"range":["#FFFFFF","#F1E94B","#FF0000"],"interpolate":"rgb"},"legend":{"orient":"none","legendX":2662,"legendY":2535,"direction":"horizontal","gradientLength":1172,"gradientThickness":90,"gradientStrokeColor":"#000000","gradientStrokeWidth":3,"title":"D' Color Key","titleOrient":"top","titleAnchor":"middle","titleFont":"Liberation Sans","titleFontWeight":"normal","titleFontSize":86,"titleColor":"#000000","titlePadding":70,"titleLimit":2000,"values":[0,1],"format":".1f","labelFont":"Liberation Sans","labelFontSize":84,"labelColor":"#000000","labelOffset":21,"labelOverlap":false,"encoding":{"labels":{"align":{"value":"center"}}}}}}},
{"data":{"name":"blocks"},"mark":{"type":"line","color":"#000000","strokeWidth":3,"interpolate":"linear"},"encoding":{"x":{"field":"x","type":"quantitative"},"y":{"field":"d","type":"quantitative"},"detail":{"field":"b"},"order":{"field":"o"}}},
{"data":{"values":[{"t":"Start:135.517","x":0,"y":-11.14},{"t":"chr9 Region:14.54 (kb)","x":21.5,"y":-11.14},{"t":"End:135.531 (Mb)","x":43,"y":-11.14}]},"mark":{"type":"text","font":"Liberation Sans","fontSize":43,"color":"#000000","align":"center","baseline":"alphabetic"},"encoding":{"x":{"field":"x","type":"quantitative"},"y":{"field":"y","type":"quantitative"},"text":{"field":"t"}}}
]}
